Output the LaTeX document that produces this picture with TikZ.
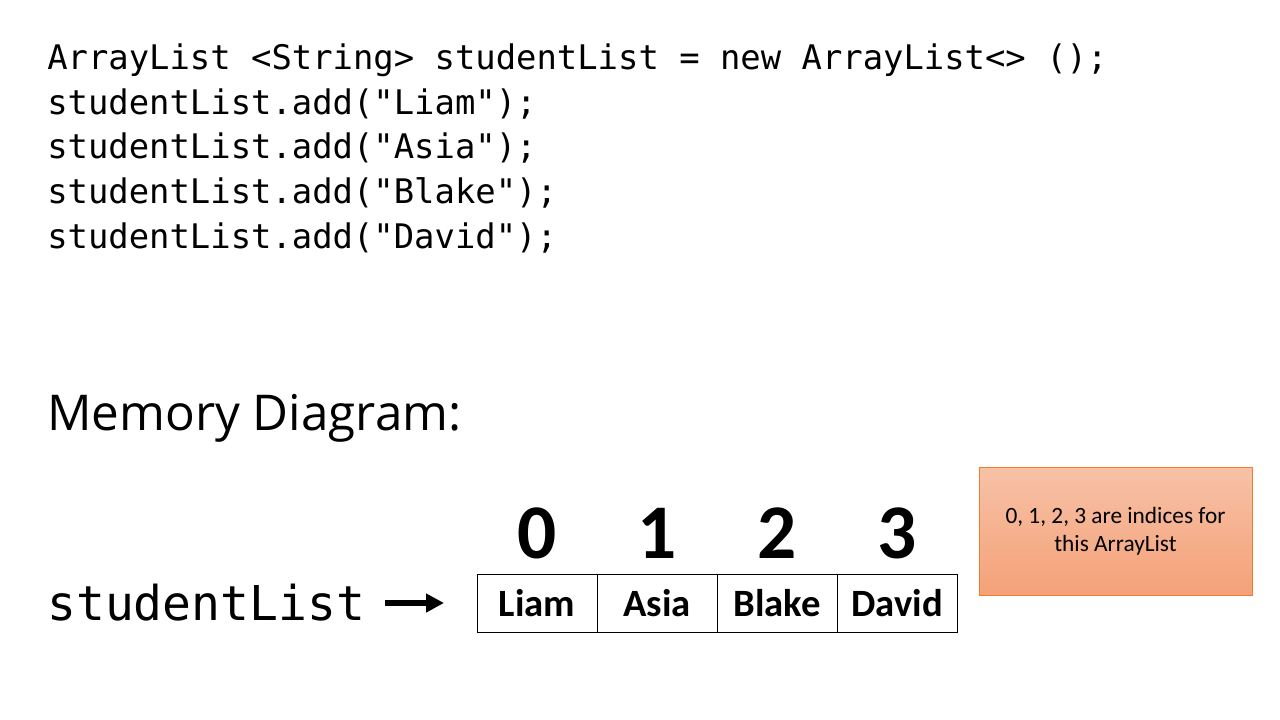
\documentclass[tikz,border=0pt]{standalone}
\usepackage{fontspec}
\setmainfont{Carlito}
\newfontfamily\codefont{DejaVu Sans Mono}
\newfontfamily\headfont{Open Sans}
\usetikzlibrary{arrows.meta}
\definecolor{boxtop}{RGB}{247,194,167}
\definecolor{boxbot}{RGB}{244,161,120}
\definecolor{boxline}{RGB}{237,125,49}
\tikzset{
  codeline/.style={anchor=base west, inner sep=0pt, font=\codefont\fontsize{25.4pt}{30pt}\selectfont},
  cell/.style={draw=black, line width=0.75pt, minimum width=90pt, minimum height=43.5pt, inner sep=0pt, font=\bfseries\fontsize{29pt}{34pt}\selectfont},
  idx/.style={anchor=base, inner sep=0pt, font=\bfseries\fontsize{58pt}{60pt}\selectfont},
  note/.style={draw=boxline, line width=0.75pt, top color=boxtop, bottom color=boxbot, minimum width=204.75pt, minimum height=96pt, align=center, font=\fontsize{17.5pt}{21pt}\selectfont},
  pointer/.style={-{Triangle[length=13.5pt,width=13.5pt]}, line width=4.5pt}
}
\begin{document}
\begin{tikzpicture}[x=0.75pt,y=-0.75pt]
\useasboundingbox (0,0) rectangle (1280,720);
\node[codeline] (l1) at (47,70) {ArrayList <String> studentList = new ArrayList<> ();};
\node[codeline] (l2) at (47,114.5) {studentList.add("Liam");};
\node[codeline] (l3) at (47,159) {studentList.add("Asia");};
\node[codeline] (l4) at (47,203.5) {studentList.add("Blake");};
\node[codeline] (l5) at (47,248) {studentList.add("David");};
\node[anchor=base west, inner sep=0pt, font=\headfont\fontsize{37pt}{40pt}\selectfont] (head) at (47,430) {Memory Diagram:};
\node[anchor=base west, inner sep=0pt, font=\codefont\fontsize{36pt}{40pt}\selectfont] (sl) at (47,620) {studentList};
\node[cell] (c0) at (537,603) {Liam};
\node[cell] (c1) at (657,603) {Asia};
\node[cell] (c2) at (777,603) {Blake};
\node[cell] (c3) at (897,603) {David};
\node[idx] (i0) at (537,558) {0};
\node[idx] (i1) at (657,558) {1};
\node[idx] (i2) at (777,558) {2};
\node[idx] (i3) at (897,558) {3};
\node[note] (nt) at (1115.5,531) {0, 1, 2, 3 are indices for\\this ArrayList};
\coordinate (p1) at (385,603);
\coordinate (p2) at (444,603);
\draw[pointer] (p1) -- (p2);
\end{tikzpicture}
\end{document}
